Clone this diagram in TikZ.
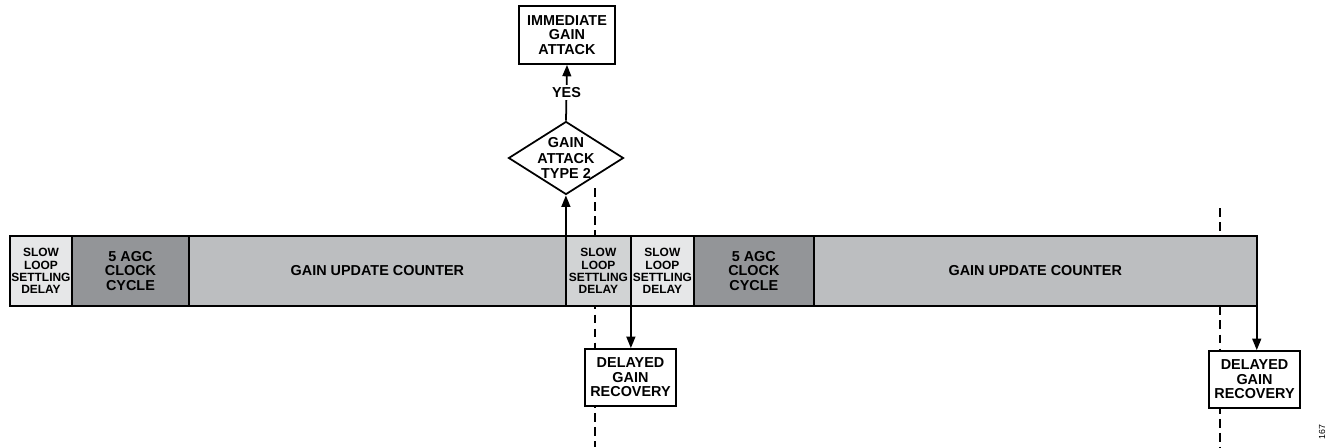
\documentclass[tikz,border=0pt]{standalone}
\usepackage{fontspec}
\setmainfont{Liberation Sans}
\usetikzlibrary{arrows.meta,positioning,shapes.geometric}
\definecolor{palegray}{HTML}{E6E7E8}
\definecolor{softgray}{HTML}{D1D3D4}
\definecolor{midgray}{HTML}{BCBEC0}
\definecolor{agcgray}{HTML}{939598}

\begin{document}
\begin{tikzpicture}[x=0.02cm,y=-0.02cm,line width=1pt,
    seg/.style={draw,outer sep=0pt,inner sep=0pt,minimum height=1.4cm,align=center,
                font=\bfseries\fontsize{8.2}{8.4}\selectfont},
    slow/.style={seg,font=\bfseries\fontsize{6.8}{6.9}\selectfont},
    msgbox/.style={draw,fill=white,align=center,inner sep=0pt,
                   font=\bfseries\fontsize{8.2}{8.3}\selectfont},
    cut/.style={dashed,dash pattern=on 5pt off 3pt},
    arr/.style={-{Triangle[length=6.5pt,width=5pt]}}]
  \useasboundingbox (0,0) rectangle (1332,447);
  % dashed markers behind everything
  \coordinate (cuta) at (595,188);
  \coordinate (cutb) at (595,447);
  \coordinate (cutc) at (1220,208);
  \coordinate (cutd) at (1220,447);
  \draw[cut] (cuta) -- (cutb);
  \draw[cut] (cutc) -- (cutd);
  % timing bar
  \node[slow,fill=palegray,minimum width=1.24cm,anchor=west] (s1) at (10,271)
    {SLOW\\LOOP\\SETTLING\\DELAY};
  \node[seg,fill=agcgray,minimum width=2.34cm,right=0pt of s1] (s2) {5 AGC\\CLOCK\\CYCLE};
  \node[seg,fill=midgray,minimum width=7.54cm,right=0pt of s2] (s3) {GAIN UPDATE COUNTER};
  \node[slow,fill=softgray,minimum width=1.30cm,right=0pt of s3] (s4)
    {SLOW\\LOOP\\SETTLING\\DELAY};
  \node[slow,fill=palegray,minimum width=1.26cm,right=0pt of s4] (s5)
    {SLOW\\LOOP\\SETTLING\\DELAY};
  \node[seg,fill=agcgray,minimum width=2.40cm,right=0pt of s5] (s6) {5 AGC\\CLOCK\\CYCLE};
  \node[seg,fill=midgray,minimum width=8.86cm,right=0pt of s6] (s7) {GAIN UPDATE COUNTER};
  % decision
  \node[draw,diamond,fill=white,inner sep=-1pt,shape aspect=1.58,
        minimum width=2.3cm,minimum height=1.46cm,
        align=center,font=\bfseries\fontsize{8.2}{8.6}\selectfont] (type2) at (566,158)
    {GAIN\\ATTACK\\TYPE 2};
  \node[msgbox,minimum width=1.92cm,minimum height=1.16cm] (attack) at (567,35)
    {IMMEDIATE\\GAIN\\ATTACK};
  \node[msgbox,minimum width=1.82cm,minimum height=1.14cm] (rec1) at (630.5,377.5)
    {DELAYED\\GAIN\\RECOVERY};
  \node[msgbox,minimum width=1.82cm,minimum height=1.14cm] (rec2) at (1254.5,379.5)
    {DELAYED\\GAIN\\RECOVERY};
  % arrows
  \draw[arr] (s4.north west) -- (s4.north west |- type2.south);
  \draw[arr] (type2.north) -- (attack.south)
    node[midway,fill=white,inner sep=1.5pt,font=\bfseries\fontsize{8.2}{8}\selectfont] {YES};
  \draw[arr] (s5.south west) -- (s5.south west |- rec1.north);
  \draw[arr] (s7.south east) -- (s7.south east |- rec2.north);
  \node[rotate=90,font=\fontsize{5}{5}\selectfont] (fignum) at (1322,432) {167};
\end{tikzpicture}
\end{document}
